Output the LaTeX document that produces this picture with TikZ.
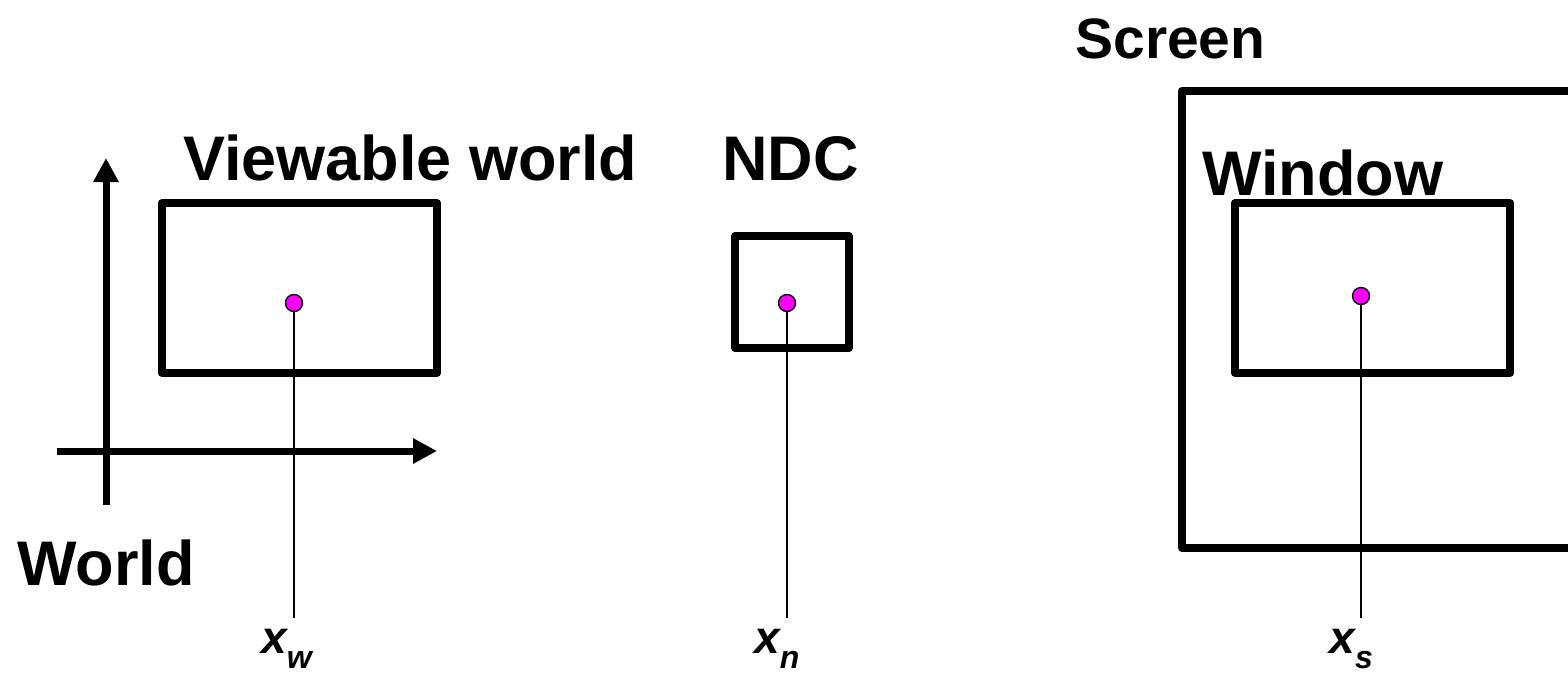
\documentclass[tikz,border=0pt]{standalone}
\usepackage{fontspec}
\setmainfont{Liberation Sans}
\usetikzlibrary{arrows.meta}
\definecolor{dotmagenta}{RGB}{255,0,255}

\tikzset{
  frame/.style={line width=4pt, line join=round},
  axis/.style={line width=3.5pt, -{Triangle[length=12pt,width=12pt]}},
  probe/.style={line width=1pt},
  point/.style={circle, draw=black, line width=0.7pt, fill=dotmagenta, inner sep=0pt, minimum size=8.5pt},
  heading/.style={anchor=base west, inner sep=0pt, font=\fontsize{31.5}{31.5}\selectfont\bfseries},
  coordlabel/.style={anchor=base west, inner sep=0pt, font=\fontsize{23}{23}\selectfont\bfseries\itshape}
}
\newcommand{\sublabel}[2]{#1{\fontsize{16}{16}\selectfont\raisebox{-7.5pt}{#2}}}

\begin{document}
\begin{tikzpicture}[x=0.5pt, y=-0.5pt]
	\useasboundingbox (0,0) rectangle (1568,675);
	
	% world axes
	\draw [axis] (106,505) -- (106,158);
	\draw [axis] (57,451) -- (437,451);
	
	% boxes
	\draw [frame] (162,203) rectangle (437,373);
	\draw [frame] (735,236) rectangle (849,348);
	\draw [frame] (1182,91) rectangle (1620,548);
	\draw [frame] (1235,203) rectangle (1510,373);
	
	% points and their probes
	\node [point] (pw) at (294,303) {};
	\node [point] (pn) at (787,303) {};
	\node [point] (ps) at (1361,296) {};
	\coordinate (ew) at (294,618);
	\coordinate (en) at (787,618);
	\coordinate (es) at (1361,618);
	\draw [probe] (pw) -- (ew);
	\draw [probe] (pn) -- (en);
	\draw [probe] (ps) -- (es);
	
	% labels
	\node [heading] (viewable) at (183,180) {Viewable world};
	\node [heading] (ndc) at (722,180) {NDC};
	\node [heading, font=\fontsize{28.5}{28.5}\selectfont\bfseries] (screen) at (1075,58) {Screen};
	\node [heading] (window) at (1202,195) {Window};
	\node [heading] (world) at (17,585) {World};
	
	\node [coordlabel] (xw) at (261,653) {\sublabel{x}{w}};
	\node [coordlabel] (xn) at (754,653) {\sublabel{x}{n}};
	\node [coordlabel] (xs) at (1329,653) {\sublabel{x}{s}};
\end{tikzpicture}
\end{document}
